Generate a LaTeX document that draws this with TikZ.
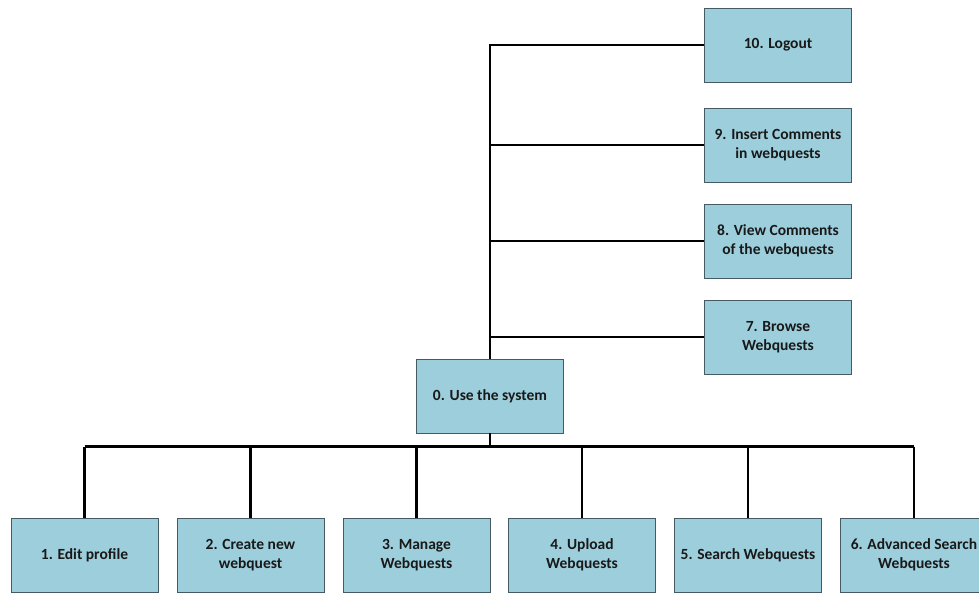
\documentclass[tikz,border=0pt]{standalone}
\usepackage{fontspec}
\setmainfont{Carlito}
\definecolor{boxfill}{RGB}{157,206,220}
\definecolor{boxline}{RGB}{70,90,100}
\definecolor{txt}{RGB}{25,25,25}
\begin{document}
\begin{tikzpicture}[x=1pt,y=-1pt,
  task/.style={draw=boxline, line width=0.9pt, fill=boxfill, minimum width=147pt,
    minimum height=74pt, inner sep=2pt, align=center, font=\bfseries\fontsize{15.5}{19}\selectfont,
    text=txt},
  link/.style={line width=2.8pt, black, line join=miter}]
\useasboundingbox (0,0) rectangle (979,592);
\clip (0,0) rectangle (979,592);

% root and the links above it
\node[task] (n0) at (490,396) {0. Use the system};
\node[task] (n10) at (778,45) {10. Logout};
\node[task] (n9) at (778,145) {9. Insert Comments\\in webquests};
\node[task] (n8) at (778,241) {8. View Comments\\of the webquests};
\node[task] (n7) at (778,337) {7. Browse\\Webquests};

% tasks below the root
\node[task] (n1) at (84.5,555) {1. Edit profile};
\node[task] (n2) at (250.5,555) {2. Create new\\webquest};
\node[task] (n3) at (416.5,555) {3. Manage\\Webquests};
\node[task] (n4) at (582,555) {4. Upload\\Webquests};
\node[task] (n5) at (748,555) {5. Search Webquests};
\node[task] (n6) at (914,555) {6. Advanced Search\\Webquests};

% trunk to the right-hand tasks
\draw[link] (n0.north) -- (n0.north |- n10.west) -- (n10.west);
\foreach \k in {9,8,7}
  \draw[link] (n0.north |- n\k.west) -- (n\k.west);

% bus to the lower tasks
\coordinate (bus) at (490,446.5);
\draw[link] (n0.south) -- (bus);
\draw[link] (n1.north |- bus) -- (n6.north |- bus);
\foreach \k in {1,...,6}
  \draw[link] (n\k.north |- bus) -- (n\k.north);
\end{tikzpicture}
\end{document}
